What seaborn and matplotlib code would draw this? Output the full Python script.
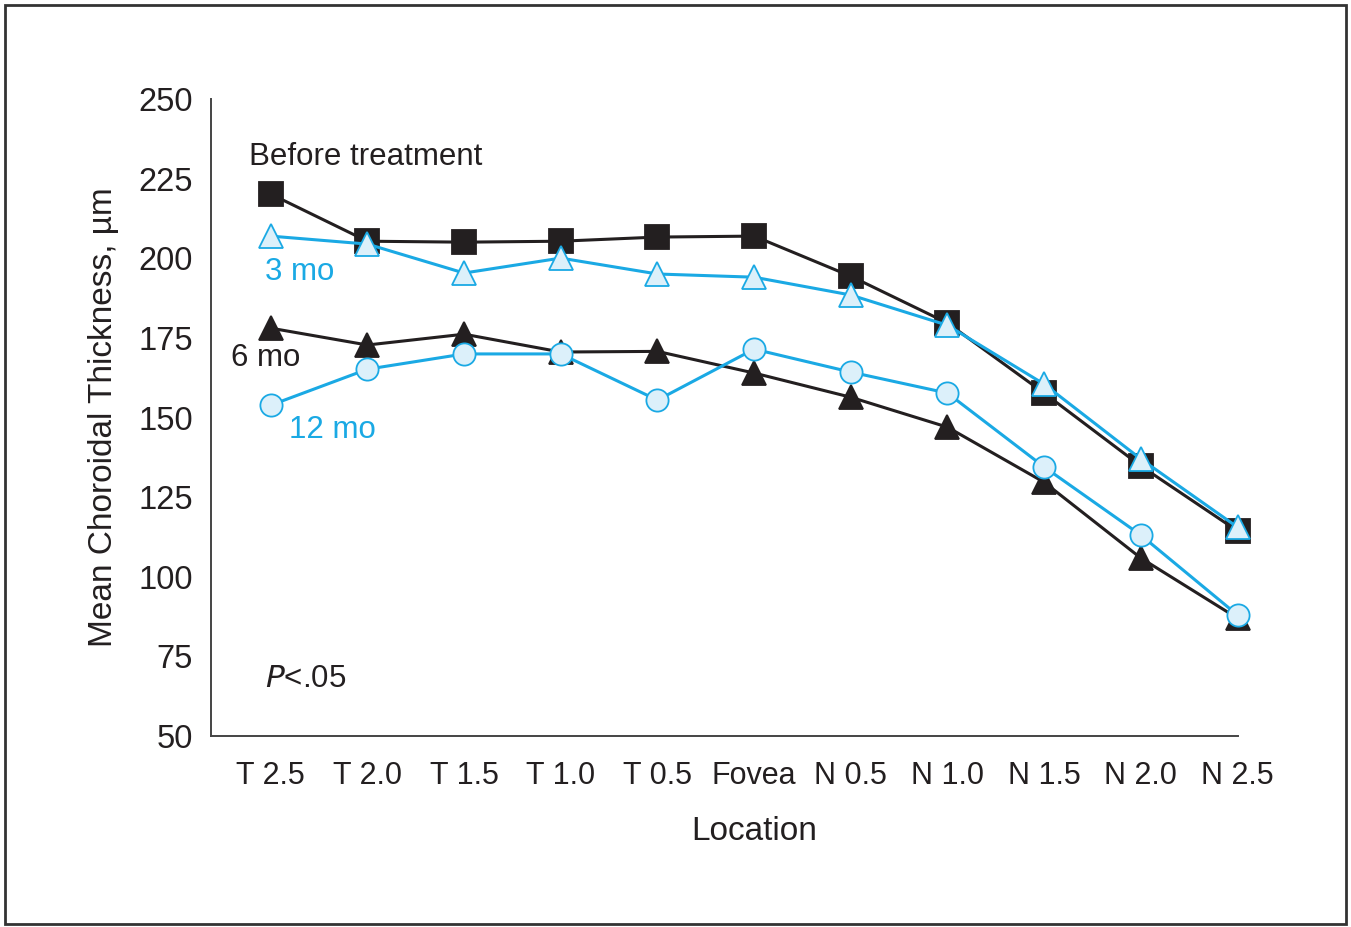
import pandas as pd
import matplotlib.pyplot as plt
import seaborn as sns
from matplotlib.patches import Rectangle

# Values
locations = ['T 2.5', 'T 2.0', 'T 1.5', 'T 1.0', 'T 0.5', 'Fovea',
             'N 0.5', 'N 1.0', 'N 1.5', 'N 2.0', 'N 2.5']
before = [220.2, 205.4, 205.1, 205.4, 206.7, 207.0, 194.4, 179.7, 157.7, 134.8, 114.4]
mo3 = [207.0, 204.5, 195.4, 200.1, 195.1, 194.1, 188.5, 179.0, 160.5, 137.0, 115.6]
mo6 = [178.1, 172.8, 176.2, 170.6, 170.8, 164.0, 156.4, 147.0, 129.7, 105.9, 87.0]
mo12 = [153.9, 165.2, 170.0, 170.0, 155.5, 171.5, 164.3, 157.7, 134.5, 113.1, 88.0]
yticks = [50, 75, 100, 125, 150, 175, 200, 225, 250]

black = '#231f20'
blue = '#1aa9e4'
light = '#dcf0fa'

sns.set_style('white')
plt.rcParams['font.family'] = ['Liberation Sans', 'DejaVu Sans']

fig = plt.figure(figsize=(13.51, 9.27), dpi=100)
ax = fig.add_axes([0.156, 0.206, 0.76, 0.687])

# series: values, line colour, marker, face colour, zorder
series = [
    (before, black, 's', black, 2),
    (mo3, blue, '^', light, 3),
    (mo6, black, '^', black, 4),
    (mo12, blue, 'o', light, 5),
]
for vals, col, mk, face, z in series:
    df = pd.DataFrame({'Location': locations, 'Thickness': vals})
    sns.lineplot(data=df, x='Location', y='Thickness', ax=ax, color=col,
                 linewidth=2.2, marker=mk, markersize=17 if mk != 'o' else 16,
                 markerfacecolor=face, markeredgecolor=col, markeredgewidth=1.3,
                 zorder=z, clip_on=False)

ax.set_xlim(-0.62, 10)
ax.set_ylim(50, 250)
ax.set_yticks(yticks)
ax.set_xticks(range(len(locations)))
ax.set_xticklabels(locations)

for s in ['top', 'right']:
    ax.spines[s].set_visible(False)
for s in ['left', 'bottom']:
    ax.spines[s].set_color('#444444')
    ax.spines[s].set_linewidth(1.4)
ax.tick_params(axis='both', direction='out', length=8, width=1.4, color='#444444',
               labelcolor=black, pad=5)
ax.tick_params(axis='y', labelsize=23.5)
ax.tick_params(axis='x', labelsize=22, pad=10)

ax.set_xlabel('Location', fontsize=24, color=black)
ax.xaxis.set_label_coords(0.529, -0.125)
ax.set_ylabel('Mean Choroidal Thickness, µm', fontsize=24, color=black, labelpad=14)

# series labels
ax.text(-0.22, 231.8, 'Before treatment', fontsize=22.5, color=black, va='center')
ax.text(-0.06, 195.7, '3 mo', fontsize=22.5, color=blue, va='center')
ax.text(-0.41, 168.7, '6 mo', fontsize=22.5, color=black, va='center')
ax.text(0.19, 146.0, '12 mo', fontsize=22.5, color=blue, va='center')
ax.text(-0.06, 67.9, r'$P$<.05', fontsize=22.5, color=black, va='center')

# frame round the figure
fig.patches.append(Rectangle((0.004, 0.003), 0.992, 0.992, transform=fig.transFigure,
                             fill=False, edgecolor='#333333', linewidth=2))

fig.savefig('out.png', dpi=100)
